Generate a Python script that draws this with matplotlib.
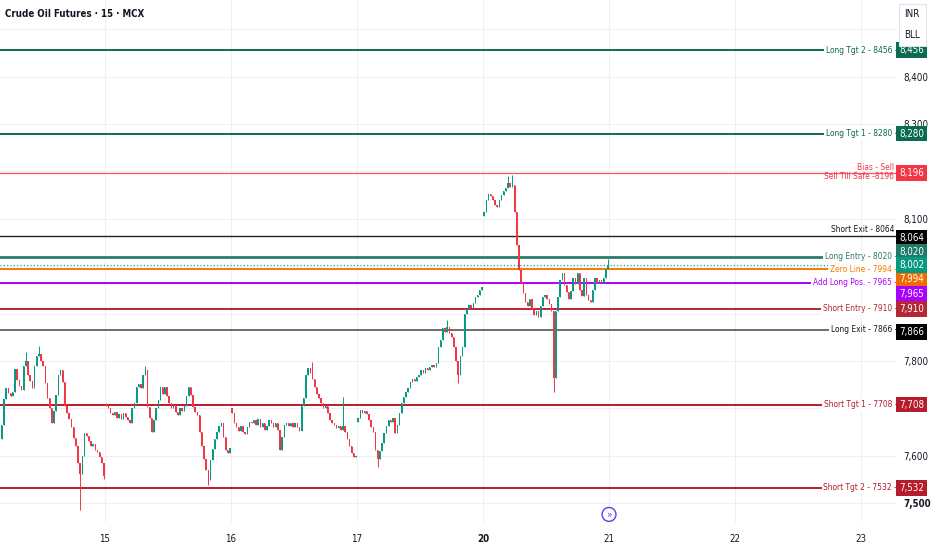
import numpy as np
import matplotlib.pyplot as plt
from matplotlib.patches import Rectangle

plt.rcParams['font.family'] = ['DejaVu Sans']
plt.rcParams['font.stretch'] = 'condensed'

# ---- data (15 min candles) ----
day_labels = ['15', '16', '17', '20', '21', '22', '23']
bars_per_day = 58

close_14 = [7665, 7720, 7742, 7732, 7725, 7735, 7782, 7760, 7748, 7738,
            7790, 7800, 7770, 7758, 7742, 7790, 7810, 7815, 7800, 7790,
            7754, 7722, 7700, 7668, 7695, 7728, 7770, 7780, 7755, 7705,
            7690, 7678, 7660, 7638, 7620, 7585, 7562, 7600, 7648, 7642,
            7630, 7620, 7625, 7612, 7608, 7597, 7585, 7558]
close_15 = [7705, 7700, 7690, 7685, 7692, 7680, 7688, 7678, 7690, 7682,
            7676, 7668, 7700, 7712, 7745, 7752, 7742, 7770, 7781, 7703,
            7680, 7650, 7676, 7700, 7718, 7745, 7730, 7745, 7725, 7712,
            7700, 7708, 7692, 7686, 7700, 7695, 7705, 7725, 7745, 7728,
            7703, 7692, 7686, 7650, 7620, 7592, 7570, 7548, 7590, 7615,
            7635, 7650, 7662, 7670, 7640, 7612, 7606, 7616]
close_16 = [7690, 7668, 7660, 7652, 7662, 7650, 7646, 7660, 7672, 7668,
            7676, 7665, 7678, 7660, 7670, 7655, 7662, 7675, 7668, 7660,
            7670, 7655, 7612, 7640, 7665, 7670, 7662, 7668, 7660, 7670,
            7660, 7652, 7705, 7722, 7770, 7785, 7775, 7762, 7745, 7730,
            7722, 7712, 7700, 7705, 7690, 7675, 7670, 7665, 7658, 7662,
            7655, 7662, 7650, 7635, 7620, 7605, 7598, 7600]
close_17 = [7680, 7697, 7690, 7695, 7688, 7676, 7660, 7650, 7612, 7592,
            7610, 7627, 7648, 7662, 7676, 7672, 7680, 7648, 7665, 7690,
            7711, 7724, 7735, 7742, 7755, 7762, 7758, 7766, 7770, 7780,
            7775, 7785, 7780, 7788, 7792, 7787, 7795, 7830, 7845, 7870,
            7862, 7872, 7858, 7850, 7830, 7800, 7770, 7810, 7830, 7900,
            7910, 7918, 7912, 7922, 7935, 7940, 7950, 7956]
close_20 = [8115, 8140, 8152, 8148, 8140, 8130, 8125, 8140, 8150, 8158,
            8165, 8175, 8168, 8172, 8115, 8045, 7992, 7965, 7944, 7925,
            7915, 7930, 7910, 7898, 7905, 7893, 7915, 7935, 7940, 7930,
            7920, 7905, 7765, 7905, 7935, 7970, 7986, 7960, 7945, 7930,
            7948, 7975, 7962, 7985, 7950, 7938, 7975, 7940, 7928, 7925,
            7950, 7975, 7965, 7970, 7965, 7975, 7995, 8002]
day_closes = [close_14, close_15, close_16, close_17, close_20]
day_opens = [7635, 7708, 7700, 7672, 8106]
day_offsets = [-1, 0, 1, 2, 3]
day_first_bar = [10, 0, 0, 0, 0]

# notable wicks: (day number in lists above, candle, extreme price)
wicks = [(0, 11, 7819), (0, 17, 7832), (0, 36, 7486), (0, 47, 7550),
         (1, 18, 7790), (1, 47, 7538), (1, 0, 7712),
         (2, 0, 7700), (2, 37, 7798), (2, 51, 7724),
         (3, 9, 7576), (3, 41, 7887), (3, 46, 7754),
         (4, 11, 8190), (4, 13, 8193), (4, 32, 7735), (4, 57, 8015)]

level_price = [8456, 8280, 8196, 8064, 8020, 7994, 7965, 7910, 7866, 7708, 7532]
level_text = ['Long Tgt 2 - 8456 -', 'Long Tgt 1 - 8280 -', 'Sell Till Safe -8196',
              'Short Exit - 8064', 'Long Entry - 8020 -', 'Zero Line - 7994 -',
              'Add Long Pos. - 7965 -', 'Short Entry - 7910 -', 'Long Exit - 7866 -',
              'Short Tgt 1 - 7708 -', 'Short Tgt 2 - 7532 -']
last_price = 8002
price_ticks = [7500, 7600, 7800, 8100, 8300, 8400]

# styles / layout
level_color = ['#0b6b4f', '#0b6b4f', '#f7525f', '#222222', '#2a7d68', '#f57c00',
               '#aa00ff', '#b22833', '#555555', '#b71c2c', '#b71c2c']
text_color = ['#0b6b4f', '#0b6b4f', '#f23645', '#131722', '#2a7d68', '#f57c00',
              '#aa00ff', '#b22833', '#131722', '#b71c2c', '#b71c2c']
box_color = ['#0b6b4f', '#0b6b4f', '#f23645', '#000000', '#1e7b67', '#ef6c00',
             '#aa00ff', '#b22833', '#000000', '#b71c2c', '#b71c2c']
level_lw = [1.4, 1.4, 0.9, 1.0, 2.0, 1.4, 1.4, 1.4, 1.2, 1.4, 1.4]
box_at = [8456, 8280, 8196, 8060, 8031, 7973, 7942, 7910, 7861, 7708, 7532]

up_col = '#089981'
dn_col = '#f23645'
lab_fs = 6
box_fs = 7

fig = plt.figure(figsize=(9.32, 5.5), dpi=100)
ax = fig.add_axes([0, 28 / 550, 897 / 932, 522 / 550])
ax.set_xlim(-105 / 126, 792 / 126)
ax.set_ylim(7460, 8562)

# faint grid
for v in range(7500, 8600, 100):
    ax.axhline(v, color='#eef0f4', lw=0.8, zorder=0)
for v in range(len(day_labels)):
    ax.axvline(v, color='#eef0f4', lw=0.8, zorder=0)

# candles
w = 0.62 / bars_per_day
for d in range(len(day_closes)):
    c = np.array(day_closes[d], dtype=float)
    o = np.concatenate([[day_opens[d]], c[:-1]])
    hi = np.maximum(o, c)
    lo = np.minimum(o, c)
    for dd, k, p in wicks:
        if dd == d:
            hi[k] = max(hi[k], p)
            lo[k] = min(lo[k], p)
    x = day_offsets[d] + (day_first_bar[d] + np.arange(len(c)) + 0.5) / bars_per_day
    cols = np.where(c >= o, up_col, dn_col)
    ax.vlines(x, lo, hi, colors=cols, lw=0.7, zorder=3)
    h = np.maximum(np.abs(c - o), 1.5)
    ax.bar(x, h, bottom=np.minimum(o, c), width=w, color=cols, lw=0, zorder=4)

# level lines and labels
ytr = ax.get_yaxis_transform()
for i, p in enumerate(level_price):
    ax.axhline(p, color=level_color[i], lw=level_lw[i], zorder=2)
    if i == 2:
        ax.text(0.997, p + 3, 'Bias - Sell', transform=ytr, ha='right', va='bottom',
                fontsize=lab_fs, color=text_color[i], zorder=6)
        ax.text(0.997, p + 3, level_text[i], transform=ytr, ha='right', va='top',
                fontsize=lab_fs, color=text_color[i], zorder=6)
    elif i == 3:
        ax.text(0.997, p + 4, level_text[i], transform=ytr, ha='right', va='bottom',
                fontsize=lab_fs, color=text_color[i], zorder=6)
    else:
        ax.text(1.0, p, level_text[i], transform=ytr, ha='right', va='center',
                fontsize=lab_fs, color=text_color[i], zorder=6,
                bbox=dict(boxstyle='square,pad=0.2', fc='white', ec='none'))
    ax.text(1.0163, box_at[i], f'{p:,}', transform=ytr, ha='center', va='center',
            fontsize=box_fs, color='white', zorder=8, clip_on=False,
            bbox=dict(boxstyle='square,pad=0.3', fc=box_color[i], ec='none'))

# last price line and box
ax.axhline(last_price, color=up_col, lw=0.8, ls=(0, (1, 2)), zorder=2)
ax.text(1.0163, 8002, f'{last_price:,}', transform=ytr, ha='center', va='center',
        fontsize=box_fs, color='white', zorder=8, clip_on=False,
        bbox=dict(boxstyle='square,pad=0.3', fc=up_col, ec='none'))

# axes styling
for s in ax.spines.values():
    s.set_visible(False)
ax.yaxis.tick_right()
ax.set_yticks(price_ticks)
ax.set_yticklabels([f'{v:,}' for v in price_ticks])
ax.set_xticks(np.arange(len(day_labels)))
ax.set_xticklabels(day_labels)
ax.tick_params(axis='y', length=0, pad=4.5, labelsize=7, labelcolor='#131722')
ax.tick_params(axis='x', length=0, pad=9, labelsize=7, labelcolor='#131722')
ax.get_xticklabels()[3].set_fontweight('bold')
ax.get_yticklabels()[0].set_fontweight('bold')

# realtime button
ax.text(4.0, 7476, '»', ha='center', va='center', fontsize=7, color='#5b3cf0', zorder=9,
        bbox=dict(boxstyle='circle,pad=0.2', fc='white', ec='#5b3cf0', lw=1))

# currency / unit box
fig.patches.append(Rectangle((899 / 932, 1 - 46 / 550), 27 / 932, 42 / 550,
                             transform=fig.transFigure, fc='white', ec='#e0e3eb', lw=0.8, zorder=10))
fig.text(912 / 932, 1 - 14 / 550, 'INR', ha='center', va='center', fontsize=7, color='#131722', zorder=11)
fig.text(912 / 932, 1 - 35 / 550, 'BLL', ha='center', va='center', fontsize=7, color='#131722', zorder=11)

fig.text(5 / 932, 1 - 14 / 550, 'Crude Oil Futures · 15 · MCX', ha='left', va='center',
         fontsize=7, fontweight='bold', color='#131722')

fig.savefig('out.png', dpi=100)
